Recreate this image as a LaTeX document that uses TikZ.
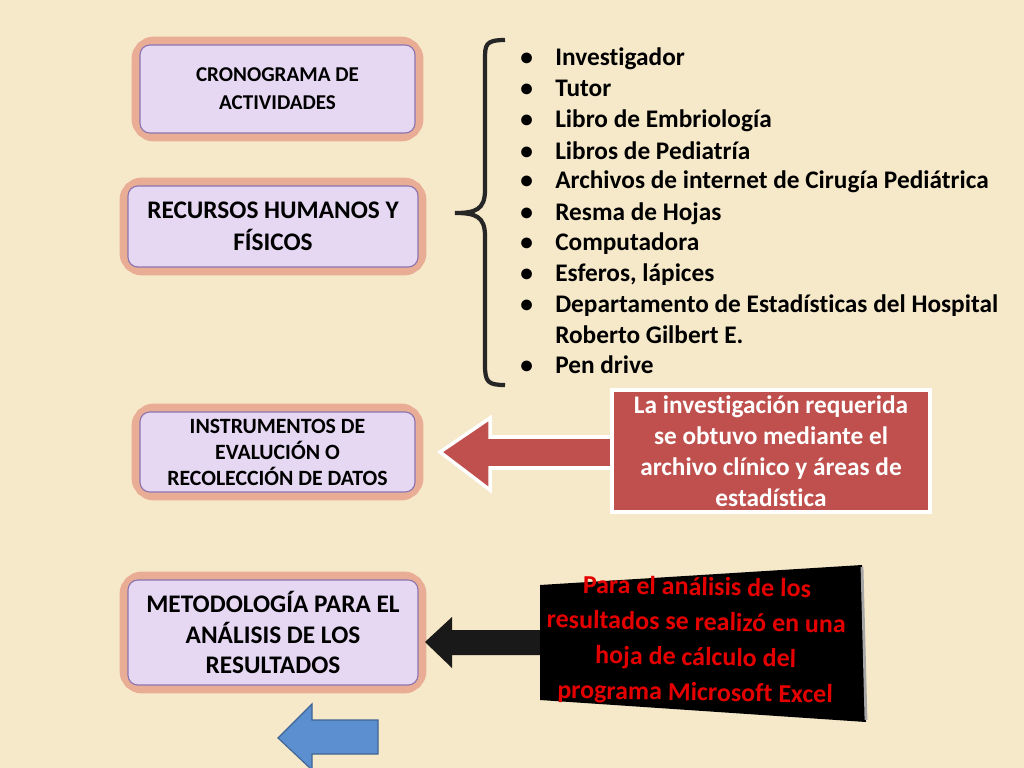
\documentclass[tikz,border=0pt]{standalone}
\usepackage{fontspec}
\setmainfont[Ligatures=NoCommon]{Carlito}
\usetikzlibrary{calc}

\definecolor{paper}{HTML}{F6E9C9}
\definecolor{lila}{HTML}{E6D8F3}
\definecolor{lilaedge}{HTML}{8A74B0}
\definecolor{glow}{HTML}{E07A6A}
\definecolor{callred}{HTML}{C0504D}
\definecolor{arrowblue}{HTML}{5B8FD0}

\tikzset{
  topicbox/.style={draw=lilaedge,fill=lila,rounded corners=7pt,thick,align=center,
    font=\bfseries,text=black!85},
  glowbox/.style={draw=glow,opacity=0.55,line width=12pt,rounded corners=10pt},
  listitem/.style={anchor=base west,inner sep=0pt,font=\bfseries\fontsize{18}{22}\selectfont},
}

\begin{document}
\begin{tikzpicture}[x=0.025cm,y=-0.025cm]

% Background
\fill[paper] (0,0) rectangle (1024,768);
\useasboundingbox (0,0) rectangle (1024,768);

% Left boxes
\foreach \name/\xa/\ya/\xb/\yb in {cron/140/45/415/133,recu/128/186/418/267,inst/140/412/415/492,meto/128/580/418/685}{
  \draw[glowbox] (\xa,\ya) rectangle (\xb,\yb);
  \coordinate (\name) at ({(\xa+\xb)/2},{(\ya+\yb)/2});
  \draw[topicbox] (\xa,\ya) rectangle (\xb,\yb);
}
\node[align=center,font=\bfseries\fontsize{15}{20}\selectfont] (crontxt) at (cron) {CRONOGRAMA DE\\ACTIVIDADES};
\node[align=center,font=\bfseries\fontsize{18}{23}\selectfont] (recutxt) at (recu) {RECURSOS HUMANOS Y\\FÍSICOS};
\node[align=center,font=\bfseries\fontsize{15.5}{18.5}\selectfont] (insttxt) at (inst) {INSTRUMENTOS DE\\EVALUCIÓN O\\RECOLECCIÓN DE DATOS};
\node[align=center,font=\bfseries\fontsize{18}{21.5}\selectfont] (metotxt) at (meto) {METODOLOGÍA PARA EL\\ANÁLISIS DE LOS\\RESULTADOS};

% Brace
\draw[line width=3pt,black!85] (505,40) .. controls (485,40) and (485,45) .. (485,60)
  -- (485,190) .. controls (485,210) and (475,213) .. (455,213)
  .. controls (475,213) and (485,216) .. (485,236)
  -- (485,365) .. controls (485,382) and (488,385) .. (505,385);

% Resource list
\foreach \y/\t in {59/Investigador,90/Tutor,121/Libro de Embriología,152/Libros de Pediatría,
  182/Archivos de internet de Cirugía Pediátrica,213/Resma de Hojas,243/Computadora,
  274/{Esferos, lápices},305/Departamento de Estadísticas del Hospital,366/Pen drive}{
  \node[listitem] at (520,\y+7) {\textbullet};
  \node[listitem] at (555,\y+7) {\t};
}
\node[listitem] (hosp) at (555,343) {Roberto Gilbert E.};

% Red callout with arrow
\fill[callred,draw=white,line width=2.5pt] (612,437) -- (490,437) -- (490,418) -- (440,452)
  -- (490,490) -- (490,468) -- (612,468) -- cycle;
\node[draw=white,line width=2.5pt,fill=callred,minimum width=318*0.025cm,minimum height=122*0.025cm,
  align=center,text=white,font=\bfseries\fontsize{18}{22}\selectfont] (inv) at (771,451)
  {La investigación requerida\\se obtuvo mediante el\\archivo clínico y áreas de\\estadística};

% Black sign with arrow
\fill[black!90] (545,630) -- (452,630) -- (452,617) -- (425,642) -- (452,668) -- (452,655) -- (545,655) -- cycle;
\fill[black] (540,585) -- (862,565) -- (866,722) -- (540,700) -- cycle;
\draw[gray!70,line width=2pt] (862,567) -- (866,720);
\node[text=red!90!black,align=center,rotate=-1,font=\bfseries\fontsize{18.5}{25}\selectfont] (excel) at (696,641)
  {Para el análisis de los\\resultados se realizó en una\\hoja de cálculo del\\programa Microsoft Excel};

% Back arrow
\fill[arrowblue,draw=arrowblue!70!black,thick] (378,720) -- (312,720) -- (312,704) -- (278,738)
  -- (312,770) -- (312,754) -- (378,754) -- cycle;

\end{tikzpicture}
\end{document}
